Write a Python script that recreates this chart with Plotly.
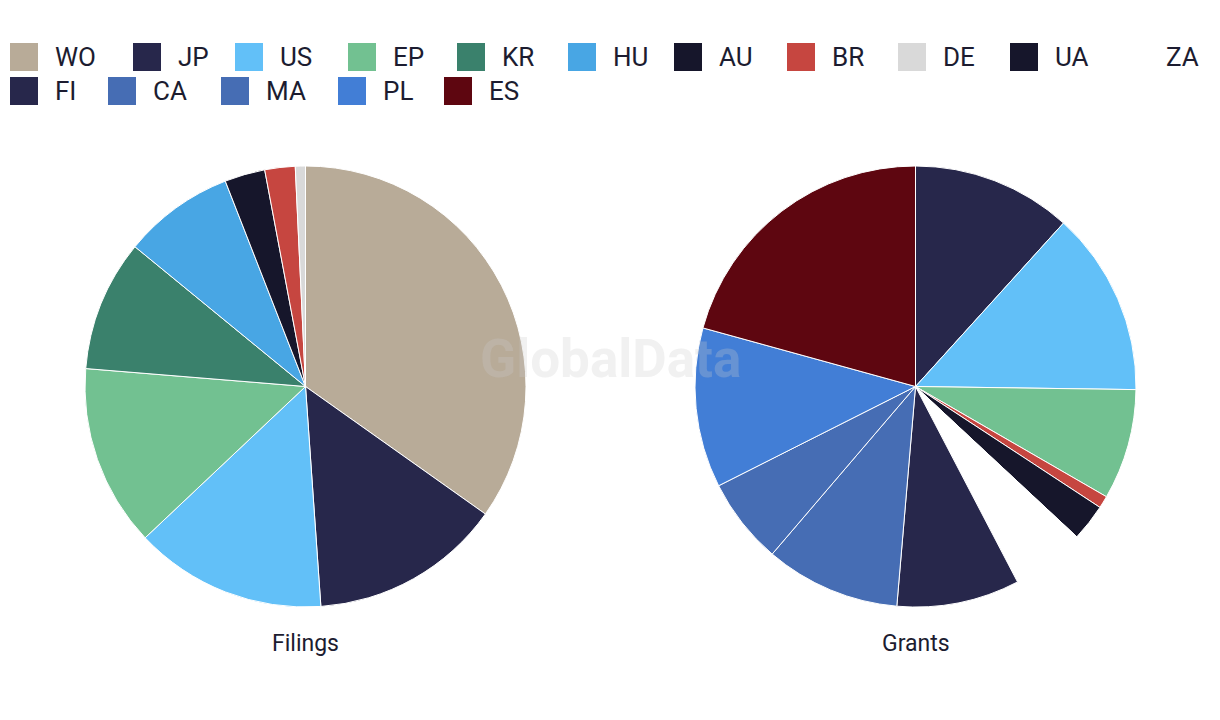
import plotly.graph_objects as go

# ---- data ----
filing_labels = ["WO", "JP", "US", "EP", "KR", "HU", "AU", "BR", "DE"]
filing_values = [47, 19, 19, 18, 13, 11, 4, 3, 1]

grant_labels = ["JP", "US", "EP", "BR", "UA", "ZA", "FI", "CA", "MA", "PL", "ES"]
grant_values = [13, 15, 9, 1, 3, 6, 10, 11, 7, 13, 23]

legend_row1 = ["WO", "JP", "US", "EP", "KR", "HU", "AU", "BR", "DE", "UA", "ZA"]
legend_row2 = ["FI", "CA", "MA", "PL", "ES"]

# ---- styles ----
COLORS = {
    "WO": "#b8ab98", "JP": "#27274b", "US": "#62c0f8", "EP": "#72c191",
    "KR": "#3a816c", "HU": "#48a6e4", "AU": "#16162b", "BR": "#c64640",
    "DE": "#d9d9d9", "UA": "#16162b", "ZA": "#ffffff", "FI": "#27274b",
    "CA": "#466db4", "MA": "#466db4", "PL": "#427ed6", "ES": "#5e0610",
}
W, H = 1220, 720
FONT = "Roboto"
TXT = "#1c1c30"

# legend layout (pixel positions of swatch left edges)
row1_x = [10, 133, 235, 348, 457, 568, 674, 787, 898, 1010, 1121]
row2_x = [10, 108, 221, 338, 444]
row_y = [57, 91]
SW = 28


def px(x):
    return x / W


def py(y):
    return 1 - y / H


fig = go.Figure()

fig.add_trace(go.Pie(
    labels=filing_labels, values=filing_values, name="Filings",
    marker=dict(colors=[COLORS[l] for l in filing_labels], line=dict(color="white", width=1)),
    sort=False, direction="clockwise", rotation=0, textinfo="none",
    domain=dict(x=[px(85), px(526)], y=[py(607), py(166)]),
    showlegend=False,
))
fig.add_trace(go.Pie(
    labels=grant_labels, values=grant_values, name="Grants",
    marker=dict(colors=[COLORS[l] for l in grant_labels], line=dict(color="white", width=1)),
    sort=False, direction="clockwise", rotation=0, textinfo="none",
    domain=dict(x=[px(695), px(1136)], y=[py(607), py(166)]),
    showlegend=False,
))

shapes = []
annotations = []
for labels, xs, yc in [(legend_row1, row1_x, row_y[0]), (legend_row2, row2_x, row_y[1])]:
    for lab, x in zip(labels, xs):
        shapes.append(dict(type="rect", xref="paper", yref="paper",
                           x0=px(x), x1=px(x + SW), y0=py(yc + SW / 2), y1=py(yc - SW / 2),
                           fillcolor=COLORS[lab], line=dict(width=0), layer="above"))
        annotations.append(dict(text=lab, xref="paper", yref="paper",
                                x=px(x + 43), y=py(yc), xanchor="left", yanchor="middle",
                                showarrow=False, font=dict(family=FONT, size=26, color=TXT)))

for title, cx in [("Filings", 305.5), ("Grants", 915.5)]:
    annotations.append(dict(text=title, xref="paper", yref="paper",
                            x=px(cx), y=py(643), xanchor="center", yanchor="middle",
                            showarrow=False, font=dict(family=FONT, size=23, color=TXT)))

annotations.append(dict(text="<b>GlobalData</b>", xref="paper", yref="paper",
                        x=px(610), y=py(359), xanchor="center", yanchor="middle",
                        showarrow=False, font=dict(family=FONT, size=53, color="rgba(205,205,205,0.27)")))

fig.update_layout(
    width=W, height=H,
    margin=dict(l=0, r=0, t=0, b=0),
    paper_bgcolor="white", plot_bgcolor="white",
    shapes=shapes, annotations=annotations,
    font=dict(family=FONT, color=TXT),
)

fig.write_html("out.html")
